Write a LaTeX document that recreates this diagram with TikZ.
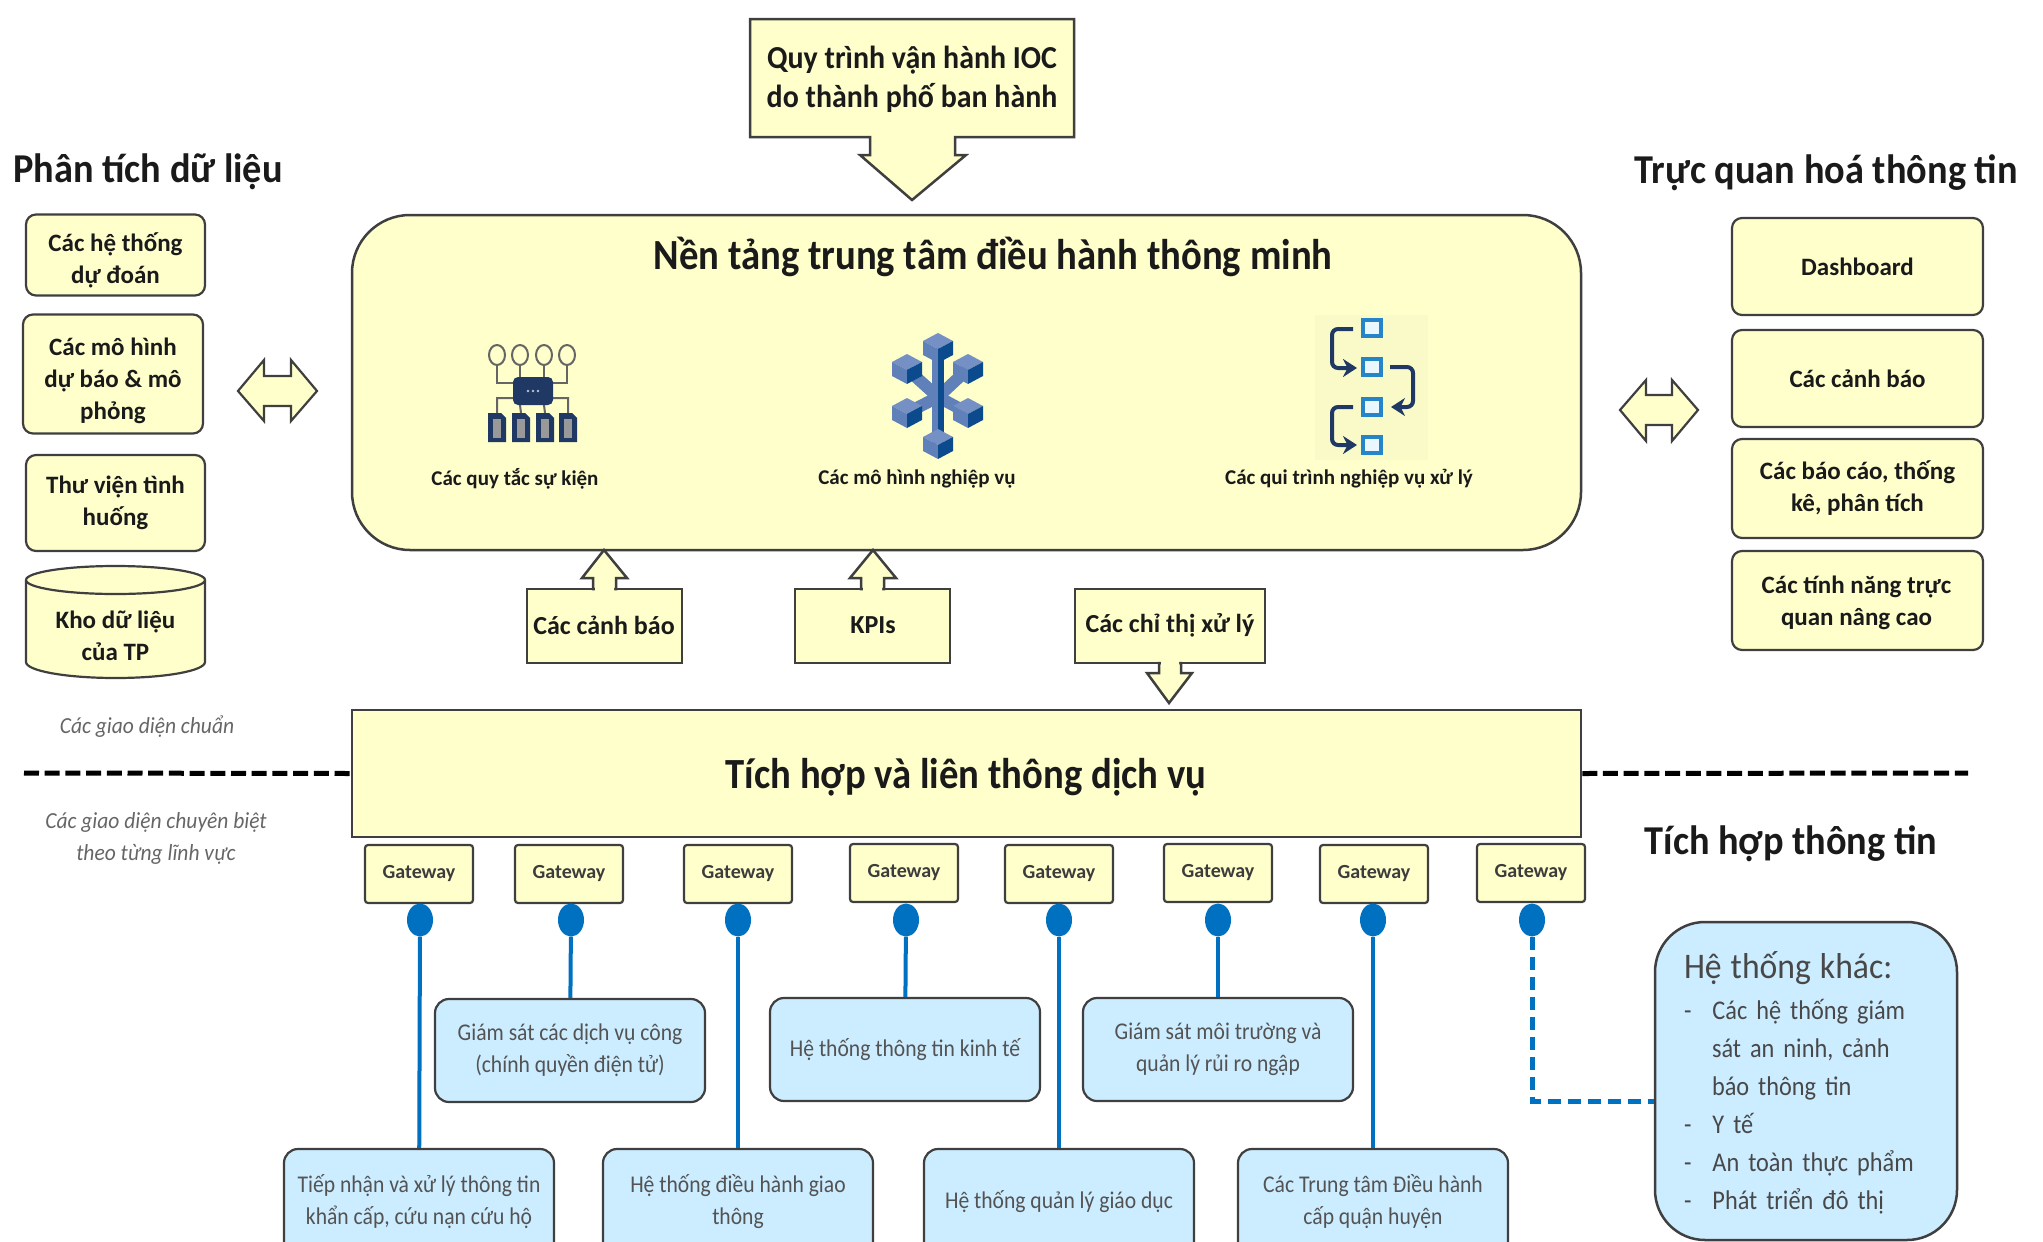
\documentclass[tikz,border=0pt]{standalone}
\usepackage{fontspec}
\usetikzlibrary{arrows.meta,shapes.geometric}
\setmainfont{Carlito}
\newfontfamily\narrowfont{Carlito}[FakeStretch=0.9]
\newfontfamily\midfont{Carlito}[FakeStretch=0.935]
\begin{document}
\begin{tikzpicture}[x=1pt,y=-1pt,line join=miter,
    creambox/.style={draw=linegray,fill=cream,line width=2.2,rounded corners=10,inner sep=0,align=center,font=\bfseries\fontsize{25}{32}\selectfont,text=ink},
    callout/.style={draw=linegray,fill=cream,line width=2.5},
    calltext/.style={align=center,inner sep=0,text=ink,font=\bfseries\fontsize{26}{33}\selectfont},
    boxtext/.style={align=center,inner sep=0,text=ink,font=\bfseries\fontsize{25}{32}\selectfont},
    gate/.style={draw=linegray,fill=cream,line width=2.2,rounded corners=3,minimum width=108,minimum height=58,inner sep=0,font=\bfseries\fontsize{20}{24}\selectfont,text=ink!85},
    sysbox/.style={draw=linegray,fill=skyblue,line width=2.2,rounded corners=14,minimum width=270,minimum height=103,inner sep=0,align=center,font=\narrowfont\fontsize{24}{32}\selectfont,text=ink!75},
    systext/.style={inner sep=0,align=center,font=\narrowfont\fontsize{24}{32}\selectfont,text=ink!75},
    heading/.style={inner sep=0,text=ink,font=\midfont\bfseries\fontsize{41}{48}\selectfont},
    iconlabel/.style={inner sep=0,text=ink,font=\bfseries\fontsize{21}{26}\selectfont},
    note/.style={inner sep=0,align=center,text=black!60,font=\midfont\itshape\fontsize{23}{32}\selectfont},
    dot/.style={ellipse,fill=linkblue,minimum width=26,minimum height=33,inner sep=0},
    link/.style={linkblue,line width=4}]
  \definecolor{cream}{HTML}{FFFFCC}
  \definecolor{skyblue}{HTML}{CCECFF}
  \definecolor{linegray}{HTML}{3F3F3F}
  \definecolor{ink}{HTML}{1A1A1A}
  \definecolor{linkblue}{HTML}{0070C0}
  \definecolor{navy}{HTML}{1F3864}
  \definecolor{cubetop}{HTML}{7590C4}
  \definecolor{cubeleft}{HTML}{5F80B8}
  \definecolor{cuberight}{HTML}{0B4A8C}
  \clip (0,0) rectangle (2043,1242);
  % top callout
  \draw[callout] (750,19) -- (1074,19) -- (1074,137) -- (955,137) -- (955,155) -- (966,155) -- (912,200) -- (860,155) -- (870,155) -- (870,137) -- (750,137) -- cycle;
  \node[calltext,font=\midfont\bfseries\fontsize{32}{39}\selectfont] (procedure) at (912,79) {Quy trình vận hành IOC\\do thành phố ban hành};
  % headings
  \node[heading,anchor=west] (analysis) at (13,172) {Phân tích dữ liệu};
  \node[heading,anchor=east] (visual) at (2018,173) {Trực quan hoá thông tin};
  \node[heading] (integrate) at (1791,844) {Tích hợp thông tin};
  % main platform
  \node[draw=linegray,fill=cream,line width=2.5,rounded corners=58,minimum width=1229,minimum height=335,inner sep=0] (platform) at (966.5,382.5) {};
  \node[heading,font=\narrowfont\bfseries\fontsize{43}{50}\selectfont] (platformtitle) at (993,257) {Nền tảng trung tâm điều hành thông minh};
  % left column
  \node[creambox,minimum width=179,minimum height=81] (predict) at (115.5,255) {};
  \node[boxtext] (predicttext) at (115.5,260) {Các hệ thống\\dự đoán};
  \node[creambox,minimum width=180,minimum height=119] (model) at (113,374) {};
  \node[boxtext] (modeltext) at (113,381) {Các mô hình\\dự báo \& mô\\phỏng};
  \node[creambox,minimum width=179,minimum height=96] (library) at (115.5,503) {Thư viện tình\\huống};
  \draw[callout,line width=2.2] (26,580) -- (26,662) arc[start angle=180,end angle=0,x radius=89.5,y radius=16] -- (205,580);
  \draw[callout,line width=2.2] (115.5,580) ellipse[x radius=89.5,y radius=14];
  \node[calltext,font=\bfseries\fontsize{25}{32}\selectfont] (store) at (115.5,636) {Kho dữ liệu\\của TP};
  % right column
  \node[creambox,minimum width=251,minimum height=97] (dash) at (1857.5,266.5) {Dashboard};
  \node[creambox,minimum width=251,minimum height=97] (alerts) at (1857.5,378.5) {Các cảnh báo};
  \node[creambox,minimum width=251,minimum height=99] (reports) at (1857.5,488.5) {Các báo cáo, thống\\kê, phân tích};
  \node[creambox,minimum width=251,minimum height=99] (advanced) at (1857.5,600.5) {};
  \node[boxtext] (advancedtext) at (1856.5,603) {Các tính năng trực\\quan nâng cao};
  % double arrows
  \draw[callout,line width=2.2] (238,391) -- (264,360) -- (264,376) -- (291,376) -- (291,360) -- (317,391) -- (291,421) -- (291,406) -- (264,406) -- (264,421) -- cycle;
  \draw[callout,line width=2.2] (1620,410) -- (1646,380) -- (1646,395) -- (1672,395) -- (1672,380) -- (1698,410) -- (1672,441) -- (1672,425) -- (1646,425) -- (1646,441) -- cycle;
  % icon rules
  \foreach \cx in {497,520,544,567} \draw[linegray!80,line width=2] (\cx,355) ellipse[x radius=8,y radius=10];
  \draw[linegray!80,line width=2] (497,365) |- (513,383) (520,365) -- (520,377) (544,365) -- (544,377) (567,365) |- (553,383);
  \draw[linegray!80,line width=2] (513,398) -| (497,413) (520,405) -- (521,413) (544,405) -- (545,413) (553,398) -| (568,413);
  \foreach \cx in {497,521,545,568} {
    \fill[navy] (\cx-9,413) -- (\cx+4,413) -- (\cx+9,418) -- (\cx+9,442) -- (\cx-9,442) -- cycle;
    \fill[gray!80] (\cx-4,419) rectangle (\cx+4,438);
  }
  \fill[navy,rounded corners=5] (513,377) rectangle (553,405);
  \foreach \cx in {528,533,538} \fill[white!70!navy] (\cx,391) circle[radius=1.4];
  % icon models
  \foreach \ax/\ay in {938/348,907/369,968/369,907/413,968/413,938/444} {
    \draw[line width=12,cubeleft] (938,397) -- (\ax,\ay);
  }
  \fill[cuberight] (938,360) rectangle (944,432);
  \foreach \ax/\ay in {938/348,907/369,968/369,907/413,968/413,938/444} {
    \fill[cubetop] (\ax-15,\ay-7) -- (\ax,\ay-15) -- (\ax+15,\ay-7) -- (\ax,\ay+1) -- cycle;
    \fill[cubeleft] (\ax-15,\ay-7) -- (\ax,\ay+1) -- (\ax,\ay+15) -- (\ax-15,\ay+7) -- cycle;
    \fill[cuberight] (\ax+15,\ay-7) -- (\ax,\ay+1) -- (\ax,\ay+15) -- (\ax+15,\ay+7) -- cycle;
  }
  % icon process
  \fill[cream!96!gray] (1315,315) rectangle (1428,460);
  \foreach \cy in {328,367,407,445} \draw[linkblue!85,fill=white!60!skyblue,line width=3.5] (1363,\cy-8) rectangle (1381,\cy+8);
  \draw[navy,line width=4,rounded corners=6,-{Stealth[length=14pt,width=18pt]}] (1353,329) -- (1332,329) -- (1332,368) -- (1357,368);
  \draw[navy,line width=4,rounded corners=6,-{Stealth[length=14pt,width=18pt]}] (1390,367) -- (1413,367) -- (1413,407) -- (1391,407);
  \draw[navy,line width=4,rounded corners=6,-{Stealth[length=14pt,width=18pt]}] (1353,407) -- (1332,407) -- (1332,445) -- (1357,445);
  \node[iconlabel] (rules) at (515,479) {Các quy tắc sự kiện};
  \node[iconlabel] (models) at (917,479) {Các mô hình nghiệp vụ};
  \node[iconlabel] (flows) at (1349,479) {Các qui trình nghiệp vụ xử lý};
  % small callouts
  \draw[callout] (527,589) rectangle (682,663);
  \draw[callout] (795,589) rectangle (950,663);
  \draw[callout] (1075,589) rectangle (1265,663);
  \draw[callout] (593,589) -- (593,578) -- (582,578) -- (604,550) -- (627,578) -- (616,578) -- (616,589) -- cycle;
  \draw[callout] (861,589) -- (861,578) -- (850,578) -- (873,550) -- (896,578) -- (884,578) -- (884,589) -- cycle;
  \draw[callout] (1159,663) -- (1159,673) -- (1147,673) -- (1169,703) -- (1192,673) -- (1181,673) -- (1181,663) -- cycle;
  \fill[cream] (595,586) rectangle (614,592) (863,586) rectangle (882,592) (1161,660) rectangle (1179,666);
  \node[calltext] (alarm) at (604,625) {Các cảnh báo};
  \node[calltext] (kpi) at (873,625) {KPIs};
  \node[calltext] (order) at (1170,625) {Các chỉ thị xử lý};
  % integration bar
  \node[draw=linegray,fill=cream,line width=2.5,minimum width=1229,minimum height=127,inner sep=0] (bus) at (966.5,773.5) {};
  \node[heading,font=\narrowfont\bfseries\fontsize{43}{50}\selectfont] (bustitle) at (966,777) {Tích hợp và liên thông dịch vụ};
  \coordinate (sepleft) at (24,773);
  \coordinate (sepright) at (1968,773);
  \draw[line width=5,dash pattern=on 15pt off 5.7pt] (sepleft) -- (bus.west);
  \draw[line width=5,dash pattern=on 15pt off 5.7pt] (bus.east) -- (sepright);
  \node[note] (stdnote) at (147,727) {Các giao diện chuẩn};
  \node[note] (domnote) at (156,838) {Các giao diện chuyên biệt\\theo từng lĩnh vực};
  % gateways
  \foreach \gname/\gx/\gy in {a/419/874,b/569/874,c/738/874,d/904/873,e/1059/874,f/1218/873,g/1374/874,h/1531/873} {
    \node[gate] (gate\gname) at (\gx,\gy) {Gateway};
  }
  \foreach \dname/\dx in {a/420,b/571,c/738,d/906,e/1059,f/1218,g/1373,h/1532} {
    \node[dot] (dot\dname) at (\dx,920) {};
  }
  % systems
  \node[sysbox,minimum height=140] (sysa) at (419,1219) {};
  \node[sysbox] (sysb) at (570,1050.5) {Giám sát các dịch vụ công\\(chính quyền điện tử)};
  \node[sysbox,minimum height=140] (sysc) at (738,1219) {};
  \node[sysbox] (sysd) at (905,1049.5) {Hệ thống thông tin kinh tế};
  \node[sysbox,minimum height=140] (syse) at (1059,1219) {};
  \node[sysbox] (sysf) at (1218,1049.5) {Giám sát môi trường và\\quản lý rủi ro ngập};
  \node[sysbox,minimum height=140] (sysg) at (1373,1219) {};
  \node[systext] (texta) at (419,1202) {Tiếp nhận và xử lý thông tin\\khẩn cấp, cứu nạn cứu hộ};
  \node[systext] (textc) at (738,1202) {Hệ thống điều hành giao\\thông};
  \node[systext] (texte) at (1059,1202) {Hệ thống quản lý giáo dục};
  \node[systext] (textg) at (1373,1202) {Các Trung tâm Điều hành\\cấp quận huyện};
  \foreach \lname in {a,b,c,d,e,f,g} \draw[link] (dot\lname) -- (sys\lname);
  \node[draw=linegray,fill=skyblue,line width=2.5,rounded corners=50,minimum width=302,minimum height=318,inner sep=0] (other) at (1806,1081) {};
  \node[inner sep=0,text width=250,align=left,text=ink!80,font=\narrowfont\fontsize{27}{38}\selectfont] (othertext) at (1809,1083) {\raisebox{-1pt}{\midfont\fontsize{36}{44}\selectfont Hệ thống khác:}\\[4pt]
    -\hspace{21pt}Các hệ thống giám\\
    \hspace{28pt}sát an ninh, cảnh\\
    \hspace{28pt}báo thông tin\\
    -\hspace{21pt}Y tế\\
    -\hspace{21pt}An toàn thực phẩm\\
    -\hspace{21pt}Phát triển đô thị};
  \coordinate (otherin) at (other.west |- 0,1101);
  \draw[link,line width=5,dash pattern=on 13pt off 7pt] (doth) |- (otherin);
\end{tikzpicture}
\end{document}
